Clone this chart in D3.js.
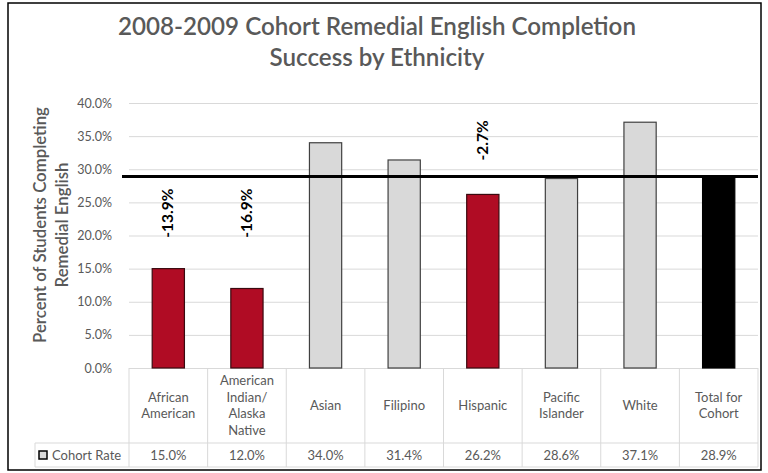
<!DOCTYPE html>
<html>
<head>
<meta charset="utf-8">
<script src="https://cdn.jsdelivr.net/npm/d3@7"></script>
<style>
  html, body { margin: 0; padding: 0; background: #fff; }
  svg { display: block; }
  text { font-family: Lato, "Open Sans", sans-serif; }
</style>
</head>
<body>
<svg id="chart" width="768" height="473"></svg>
<script>
// ---- data ----
const categories = ["African American", "American Indian/ Alaska Native", "Asian", "Filipino", "Hispanic", "Pacific Islander", "White", "Total for Cohort"];
const categoryLines = [["African", "American"], ["American", "Indian/", "Alaska", "Native"], ["Asian"], ["Filipino"], ["Hispanic"], ["Pacific", "Islander"], ["White"], ["Total for", "Cohort"]];
const cohortRate = [15.0, 12.0, 34.0, 31.4, 26.2, 28.6, 37.1, 28.9];
const groupType = ["below", "below", "above", "above", "below", "above", "above", "total"];
const gapLabels = ["-13.9%", "-16.9%", null, null, "-2.7%", null, null, null];
const cohortTotal = 28.9;
const yTicks = [0, 5, 10, 15, 20, 25, 30, 35, 40];
const seriesName = "Cohort Rate";
const titleLines = ["2008-2009 Cohort Remedial English Completion", "Success by Ethnicity"];
const yTitleLines = ["Percent of Students Completing", "Remedial English"];

// ---- layout ----
const svg = d3.select("#chart");
const L = 129, R = 758, T = 103, B = 368;
const headerBottom = 443, tableBottom = 467, legendLeft = 35;
const gray = "#595959", gridC = "#d9d9d9";
const fills = { below: "#B00C24", above: "#D9D9D9", total: "#000000" };
const strokes = { below: "#3a0a10", above: "#404040", total: "#000000" };

const x = d3.scaleBand().domain(categories).range([L, R]).paddingInner(0.59).paddingOuter(0.295);
const xCol = d3.scaleBand().domain(categories).range([L, R]);
const y = d3.scaleLinear().domain([0, 40]).range([B, T]);

function fitSize(sel, target) {
  const w = sel.node().getComputedTextLength();
  const fs = parseFloat(sel.attr("font-size"));
  sel.attr("font-size", fs * target / w);
}

// frame
svg.append("rect").attr("x", 8).attr("y", 3).attr("width", 753).attr("height", 467)
  .attr("fill", "none").attr("stroke", "#000").attr("stroke-width", 1.5);

// title
const tt = svg.append("g").selectAll("text").data(titleLines).join("text")
  .attr("x", 377).attr("y", (d, i) => 35 + i * 31)
  .attr("text-anchor", "middle").attr("fill", gray)
  .attr("font-family", "'Open Sans', sans-serif")
  .attr("font-size", 20).attr("font-weight", 600).text(d => d);
const t0 = d3.select(tt.nodes()[0]);
fitSize(t0, 518);
d3.select(tt.nodes()[1]).attr("font-size", t0.attr("font-size"));

// gridlines
const yAxis = d3.axisLeft(y).tickValues(yTicks).tickFormat(d => d.toFixed(1) + "%").tickSize(-(R - L)).tickPadding(17);
const gy = svg.append("g").attr("transform", `translate(${L},0)`).call(yAxis);
gy.select(".domain").remove();
gy.selectAll(".tick line").attr("stroke", gridC).attr("stroke-width", 1);
gy.selectAll(".tick text").attr("fill", gray).attr("font-size", 12.5).attr("font-family", "Lato, sans-serif");

// y title
const yt = svg.append("g").attr("transform", "translate(0,225)");
const ytt = yt.selectAll("text").data(yTitleLines).join("text")
  .attr("transform", (d, i) => `translate(${46 + i * 22},0) rotate(-90)`)
  .attr("text-anchor", "middle").attr("fill", gray)
  .attr("font-family", "'Open Sans', sans-serif")
  .attr("font-size", 14).attr("font-weight", 600).text(d => d);
const y0 = d3.select(ytt.nodes()[0]);
fitSize(y0, 236);
d3.select(ytt.nodes()[1]).attr("font-size", y0.attr("font-size"));

// bars
svg.append("g").selectAll("rect").data(categories).join("rect")
  .attr("x", d => x(d)).attr("width", x.bandwidth())
  .attr("y", (d, i) => y(cohortRate[i])).attr("height", (d, i) => B - y(cohortRate[i]))
  .attr("fill", (d, i) => fills[groupType[i]])
  .attr("stroke", (d, i) => strokes[groupType[i]]).attr("stroke-width", 1.2);

// cohort line
svg.append("line").attr("x1", 122).attr("x2", R).attr("y1", y(cohortTotal)).attr("y2", y(cohortTotal))
  .attr("stroke", "#000").attr("stroke-width", 3);

// gap labels (rotated)
svg.append("g").selectAll("text").data(categories.map((c, i) => ({ c, i, t: gapLabels[i] })).filter(d => d.t))
  .join("text")
  .attr("transform", d => {
    const cx = xCol(d.c) + xCol.bandwidth() / 2 + 5;
    const above = cohortRate[d.i] > cohortTotal - 5;
    const cy = above ? y(cohortTotal) - 16 : y(cohortTotal) + 12;
    return `translate(${cx},${cy}) rotate(-90)`;
  })
  .attr("text-anchor", d => cohortRate[d.i] > cohortTotal - 5 ? "start" : "end")
  .attr("fill", "#000").attr("font-size", 15.5).attr("font-weight", "bold").text(d => d.t);

// table
const tg = svg.append("g").attr("stroke", gridC).attr("stroke-width", 1).attr("fill", "none");
xCol.domain().forEach(c => {
  tg.append("line").attr("x1", xCol(c)).attr("x2", xCol(c)).attr("y1", B).attr("y2", tableBottom);
});
tg.append("line").attr("x1", R).attr("x2", R).attr("y1", B).attr("y2", tableBottom);
tg.append("line").attr("x1", legendLeft).attr("x2", legendLeft).attr("y1", headerBottom).attr("y2", tableBottom);
tg.append("line").attr("x1", legendLeft).attr("x2", R).attr("y1", headerBottom).attr("y2", headerBottom);
tg.append("line").attr("x1", legendLeft).attr("x2", R).attr("y1", tableBottom).attr("y2", tableBottom);

// header labels
const hdr = svg.append("g");
categories.forEach((c, i) => {
  const lines = categoryLines[i];
  const cx = xCol(c) + xCol.bandwidth() / 2;
  const lh = 16.5;
  const cy = (B + headerBottom) / 2;
  const t = hdr.append("text").attr("text-anchor", "middle").attr("fill", gray).attr("font-size", 13);
  lines.forEach((ln, j) => {
    t.append("tspan").attr("x", cx).attr("y", cy + (j - (lines.length - 1) / 2) * lh + 4.5).text(ln);
  });
});

// values row
svg.append("g").selectAll("text").data(categories).join("text")
  .attr("x", d => xCol(d) + xCol.bandwidth() / 2).attr("y", (headerBottom + tableBottom) / 2 + 5)
  .attr("text-anchor", "middle").attr("fill", gray).attr("font-size", 13)
  .text((d, i) => cohortRate[i].toFixed(1) + "%");

// legend
svg.append("rect").attr("x", 39).attr("y", 451).attr("width", 8).attr("height", 8)
  .attr("fill", "#D9D9D9").attr("stroke", "#000").attr("stroke-width", 1.5);
svg.append("text").attr("x", 52).attr("y", (headerBottom + tableBottom) / 2 + 5)
  .attr("fill", gray).attr("font-size", 13).text(seriesName);
</script>
</body>
</html>
